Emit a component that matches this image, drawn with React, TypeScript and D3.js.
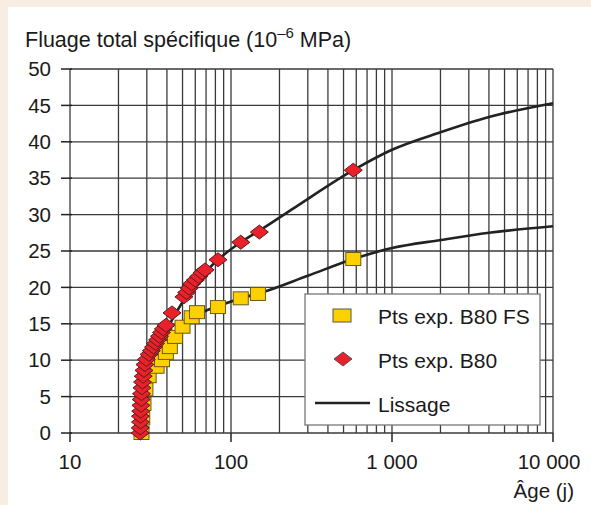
import React from "react";
import * as d3 from "d3";

// ---- data ----
const b80X = [27.3, 27.3, 27.4, 27.4, 27.5, 27.6, 27.7, 27.8, 28, 28.2, 28.5, 28.8, 29.2, 29.8, 31, 32, 33, 34, 35, 36, 37, 38, 39.5, 43, 51, 53, 55, 57, 60, 63, 66, 69, 83, 115, 150, 575];
const b80Y = [0, 0.7, 1.5, 2.3, 3, 3.8, 4.6, 5.4, 6.2, 7, 7.8, 8.6, 9.4, 10.1, 10.8, 11.3, 11.8, 12.3, 12.8, 13.3, 13.8, 14.3, 14.8, 16.5, 18.7, 19.3, 19.9, 20.5, 21, 21.5, 22, 22.4, 23.8, 26.2, 27.6, 36.1];

const fsX = [27.8, 28.1, 28.6, 29.4, 30.8, 34.5, 37.3, 39.4, 41.7, 44.9, 50, 57, 61.5, 83, 115, 147, 575];
const fsY = [0, 2, 4, 6, 7.8, 9.1, 10, 11, 11.8, 13.2, 14.6, 15.9, 16.6, 17.3, 18.5, 19.1, 23.9];

const fitUpperX = [27.3, 28, 29, 30, 32, 35, 40, 45, 55, 70, 85, 115, 150, 250, 575, 1000, 2000, 4000, 10000];
const fitUpperY = [0, 5, 8.5, 10, 11.2, 12.6, 14.3, 16.3, 19.4, 22.2, 24, 26.2, 27.8, 31, 36.1, 38.9, 41.3, 43.4, 45.3];

const fitLowerX = [27.8, 28.6, 30, 32, 36, 40, 45, 55, 70, 85, 115, 150, 300, 575, 1000, 2000, 4000, 10000];
const fitLowerY = [0, 4, 7, 8.4, 9.8, 11.2, 13, 15.3, 16.8, 17.5, 18.5, 19.2, 21.6, 23.9, 25.4, 26.5, 27.5, 28.4];

const yTicks = [0, 5, 10, 15, 20, 25, 30, 35, 40, 45, 50];
const xMajor = [10, 100, 1000, 10000];
const xMajorLabels = ["10", "100", "1 000", "10 000"];

const legendLabels = ["Pts exp. B80 FS", "Pts exp. B80", "Lissage"];

const W = 591;
const H = 505;
const FONT = "'Liberation Sans', Arial, Helvetica, sans-serif";
const GRID = "#3a3a3a";

export default function App() {
  const x = d3.scaleLog().domain([10, 10000]).range([70, 553]);
  const y = d3.scaleLinear().domain([0, 50]).range([433, 69]);

  const minor: number[] = [];
  for (let d = 10; d < 10000; d *= 10) {
    for (let k = 2; k <= 9; k++) minor.push(d * k);
  }

  const line = d3
    .line<[number, number]>()
    .x((p) => x(p[0]))
    .y((p) => y(p[1]))
    .curve(d3.curveMonotoneX);

  const upper = line(fitUpperX.map((v, i) => [v, fitUpperY[i]]) as [number, number][]) || "";
  const lower = line(fitLowerX.map((v, i) => [v, fitLowerY[i]]) as [number, number][]) || "";

  const sqW = 15, sqH = 13;
  const dW = 9, dH = 7;
  const diamond = (cx: number, cy: number) =>
    `M${cx - dW},${cy}L${cx},${cy - dH}L${cx + dW},${cy}L${cx},${cy + dH}Z`;

  const lg = { x: 305, y: 294, w: 235, h: 131 };

  return (
    <svg
      width={W}
      height={H}
      style={{ position: "absolute", left: 0, top: 0, fontFamily: FONT }}
    >
      <rect x={0} y={0} width={W} height={H} fill="#f8ede3" />
      <rect x={8} y={7} width={W - 8} height={H - 7} fill="#ffffff" />

      {/* title */}
      <text x={25} y={47} fontSize={21.5} fill="#1a1a1a">
        Fluage total spécifique (10
        <tspan dy={-9} fontSize={15}>–6</tspan>
        <tspan dy={9}> MPa)</tspan>
      </text>

      {/* grid */}
      <g stroke={GRID} strokeWidth={1.3}>
        {yTicks.map((t) => (
          <line key={"h" + t} x1={x(10)} x2={x(10000)} y1={y(t)} y2={y(t)} />
        ))}
        {minor.concat(xMajor).map((t) => (
          <line key={"v" + t} x1={x(t)} x2={x(t)} y1={y(0)} y2={y(50)} />
        ))}
      </g>

      {/* axis ticks */}
      <g stroke="#222" strokeWidth={1.5}>
        {yTicks.map((t) => (
          <line key={"yt" + t} x1={x(10) - 9} x2={x(10) + 2} y1={y(t)} y2={y(t)} />
        ))}
        {xMajor.map((t) => (
          <line key={"xt" + t} x1={x(t)} x2={x(t)} y1={y(0)} y2={y(0) + 9} />
        ))}
      </g>

      {/* tick labels */}
      <g fontSize={20.5} fill="#1a1a1a">
        {yTicks.map((t) => (
          <text key={"yl" + t} x={51} y={y(t)} dy="0.35em" textAnchor="end">
            {t}
          </text>
        ))}
        {xMajor.map((t, i) => (
          <text key={"xl" + t} x={Math.min(x(t), 549)} y={469} textAnchor="middle">
            {xMajorLabels[i]}
          </text>
        ))}
        <text x={574} y={498} textAnchor="end">
          Âge (j)
        </text>
      </g>

      {/* fitted curves */}
      <g fill="none" stroke="#222" strokeWidth={2.6}>
        <path d={lower} />
        <path d={upper} />
      </g>

      {/* B80 FS squares */}
      <g fill="#fdd100" stroke="#6b5a1a" strokeWidth={1}>
        {fsX.map((v, i) => (
          <rect
            key={"s" + i}
            x={x(v) - sqW / 2}
            y={y(fsY[i]) - sqH / 2}
            width={sqW}
            height={sqH}
          />
        ))}
      </g>

      {/* B80 diamonds */}
      <g fill="#e8212a" stroke="#5a1c1c" strokeWidth={1}>
        {b80X.map((v, i) => (
          <path key={"d" + i} d={diamond(x(v), y(b80Y[i]))} />
        ))}
      </g>

      {/* legend */}
      <rect x={lg.x} y={lg.y} width={lg.w} height={lg.h} fill="#fff" stroke="#777" strokeWidth={1.3} />
      <rect x={342 - 9} y={316 - 7} width={18} height={13} fill="#fdd100" stroke="#555" strokeWidth={1} />
      <path d={diamond(343, 359)} fill="#e8212a" stroke="#555" strokeWidth={1} />
      <line x1={315} x2={370} y1={403} y2={403} stroke="#222" strokeWidth={2.6} />
      <g fontSize={21} fill="#1a1a1a">
        {legendLabels.map((l, i) => (
          <text key={l} x={378} y={324 + i * 44}>
            {l}
          </text>
        ))}
      </g>
    </svg>
  );
}
